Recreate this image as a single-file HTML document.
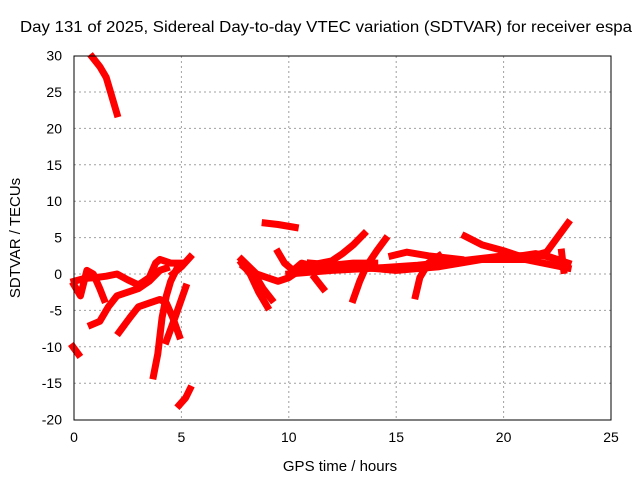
<!DOCTYPE html>
<html><head><meta charset="utf-8"><style>
body{margin:0;background:#fff}
svg{display:block;font-family:"Liberation Sans",sans-serif}
</style></head><body>
<svg id="chart" width="640" height="480">
<text x="20" y="32" textLength="612" lengthAdjust="spacingAndGlyphs" font-size="16">Day 131 of 2025, Sidereal Day-to-day VTEC variation (SDTVAR) for receiver espa</text>
<text x="340" y="471" text-anchor="middle" font-size="15">GPS time / hours</text>
<text transform="translate(20,238) rotate(-90)" text-anchor="middle" font-size="15">SDTVAR / TECUs</text>
<g id="grid"></g><g id="ticks"></g><g id="marks"></g>
<rect x="74" y="56" width="537" height="364" fill="none" stroke="#000"/>
</svg>
<script>
const xTicks=[0,5,10,15,20,25];
const yTicks=[30,25,20,15,10,5,0,-5,-10,-15,-20];
const t1=[[0.85,29.8],[1.2,28.5],[1.5,27],[1.8,24],[2.0,22]];
const t2=[[-0.05,-10],[0.2,-11]];
const t3=[[0,-1.5],[0.3,-3],[0.6,0.5],[0.9,0],[1.2,-2],[1.4,-3.5]];
const t4=[[0,-1],[0.5,-0.6],[1,-0.5],[1.5,-0.3],[2,0],[2.5,-0.8],[3,-1.5],[3.5,-0.5],[3.8,1.5],[4,2],[4.5,1.5],[5,1.5]];
const t5=[[0.8,-7],[1.2,-6.5],[1.6,-4.5],[2,-3],[2.5,-2.5],[3,-2],[3.5,-1],[4,0.5],[4.3,0.8]];
const t6=[[2.1,-8],[2.6,-6],[3,-4.5],[3.5,-4],[4,-3.5],[4.3,-4],[4.6,-6],[4.9,-8.5]];
const t7=[[3.7,-14],[3.9,-11],[4.1,-6],[4.3,-3],[4.5,-1],[4.8,0.8]];
const t8=[[4.3,-9.2],[4.7,-6],[5.2,-1.8]];
const t9=[[4.6,0],[5,1],[5.4,2.3]];
const t10=[[4.9,-18],[5.2,-17],[5.4,-15.8]];
const t11=[[8.9,7],[9.5,6.8],[10.3,6.4]];
const t12=[[7.8,1.5],[8.2,0],[8.6,-2.5],[9,-4.5]];
const t13=[[7.9,1],[8.5,-0.5],[8.8,-2],[9.2,-3.5]];
const t14=[[7.8,2],[8.5,0],[9,-0.5],[9.5,-1],[10,-0.5],[10.5,0.5],[11,1],[12,1.2],[13,1.5],[14,1.5]];
const t15=[[9.5,3],[9.8,1.5],[10.2,0.5],[10.6,1.5],[11,1.2],[11.5,1.5],[12,1.8],[12.5,2.8],[13,4],[13.5,5.5]];
const t16=[[10,0],[12,0.5],[14,0.8],[16,1.2],[18,1.8],[20,2.5],[22,2.5],[23,1.5]];
const t17=[[11,1.5],[13,1],[15,0.5],[17,1],[19,2],[21,2],[23,0.8]];
const t18=[[18.2,5.2],[19,4],[20,3.2],[21,2.2],[22,3],[22.5,5],[23,7]];
const t19=[[13,-3.5],[13.3,-1],[13.6,1],[14.1,3.2],[14.5,4.8]];
const t20=[[15.9,-3],[16.1,-0.5],[16.5,1.5],[17,2.5]];
const t21=[[14.8,2.5],[15.5,3],[16.5,2.5],[18,2]];
const t22=[[11.2,-0.5],[11.6,-2]];
const t23=[[22.7,3],[22.8,0.5]];
const t24=[[20.8,2.5],[21.5,2.8],[22.5,2]];
const tracks=[t1,t2,t3,t4,t5,t6,t7,t8,t9,t10,t11,t12,t13,t14,t15,t16,t17,t18,t19,t20,t21,t22,t23,t24];
const NS="http://www.w3.org/2000/svg";
const X=h=>74+h*(537/25);
const Y=v=>274-v*(364/50);
const grid=document.getElementById('grid'),ticks=document.getElementById('ticks'),marks=document.getElementById('marks');
function mk(tag,attrs,parent){const e=document.createElementNS(NS,tag);for(const k in attrs)e.setAttribute(k,attrs[k]);parent.appendChild(e);return e;}
xTicks.forEach(t=>{
 const x=X(t);
 if(t>0&&t<25){const g=mk('line',{x1:x,x2:x,y1:56,y2:420,stroke:'#a0a0a0','stroke-dasharray':'2,3'},grid);
 
 }
 const l=mk('text',{x:x,y:442,'text-anchor':'middle','font-size':'14'},ticks);l.textContent=t;
 
 
});
yTicks.forEach(t=>{
 const y=Y(t);
 if(t<30&&t>-20){const g=mk('line',{x1:74,x2:611,y1:y,y2:y,stroke:'#a0a0a0','stroke-dasharray':'2,3'},grid);
 
 }
 const l=mk('text',{x:62,y:y+5,'text-anchor':'end','font-size':'14'},ticks);l.textContent=t;
 
 
});
tracks.forEach(tr=>{
 const p=mk('polyline',{points:tr.map(d=>X(d[0])+','+Y(d[1])).join(' '),fill:'none',stroke:'#ff0000','stroke-width':'7','stroke-linejoin':'round','stroke-linecap':'square'},marks);
 
 
});
</script>
</body></html>
